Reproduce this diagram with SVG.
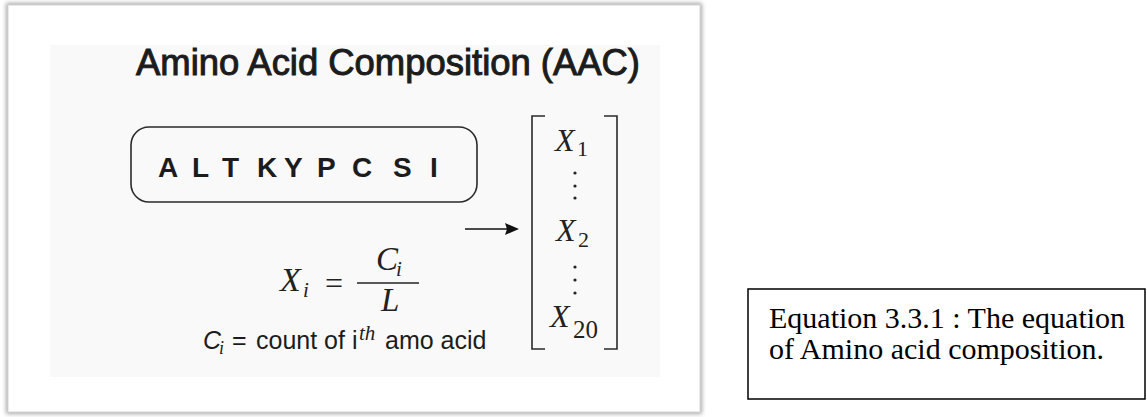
<svg xmlns="http://www.w3.org/2000/svg" width="1147" height="417" viewBox="0 0 1147 417">
<style>
.sans{font-family:"Liberation Sans",Arial,sans-serif;fill:#1c1c1c}
.math{font-family:"Liberation Serif","Times New Roman",serif;font-style:italic;fill:#222}
.mathr{font-family:"Liberation Serif","Times New Roman",serif;fill:#222}
.cap{font-family:"Liberation Serif","Times New Roman",serif;font-size:30px;fill:#000}
.ln{stroke:#2a2a2a;stroke-width:1.6;fill:none}
.dot{fill:#222}
</style>
<defs>
<filter id="sh" x="-5%" y="-5%" width="110%" height="110%">
<feGaussianBlur stdDeviation="2"/>
</filter>
</defs>
<rect width="1147" height="417" fill="#ffffff"/>
<g id="frame">
<rect x="6" y="3" width="696" height="411" fill="#a8a8a8" filter="url(#sh)"/>
<rect x="8" y="5" width="692" height="407" fill="#ffffff" stroke="#d6d6d6" stroke-width="1"/>
<rect x="50" y="45" width="610" height="332" fill="#f9f9f9"/>
</g>
<g id="title">
<text class="sans" x="136" y="75" font-size="36" stroke="#1c1c1c" stroke-width="1" textLength="504" lengthAdjust="spacingAndGlyphs">Amino Acid Composition (AAC)</text>
</g>
<g id="sequence">
<rect x="131" y="127" width="346" height="75" rx="18" ry="18" class="ln" stroke-width="1.5"/>
<text class="sans" font-size="28" font-weight="bold" y="177"><tspan x="158">A</tspan> <tspan x="192">L</tspan> <tspan x="222">T</tspan> <tspan x="257">K</tspan> <tspan x="284">Y</tspan> <tspan x="317">P</tspan> <tspan x="352">C</tspan> <tspan x="393">S</tspan> <tspan x="430">I</tspan></text>
</g>
<g id="formula">
<text class="math" x="280" y="291" font-size="34">X</text>
<text class="math" x="303" y="297" font-size="21">i</text>
<text class="mathr" x="325" y="294" font-size="32">=</text>
<line x1="357" y1="283" x2="419" y2="283" stroke="#222" stroke-width="1.4"/>
<text class="math" x="376" y="270" font-size="33">C</text>
<text class="math" x="396" y="276" font-size="21">i</text>
<text class="math" x="381" y="311" font-size="33">L</text>
</g>
<g id="definition">
<text class="sans" x="203" y="349" font-size="25" font-style="italic">C</text>
<text class="math" x="219" y="354" font-size="18">i</text>
<text class="sans" x="232" y="349" font-size="25">=</text>
<text class="sans" x="256" y="349" font-size="25">count of i</text>
<text class="math" x="359" y="340" font-size="21">th</text>
<text class="sans" x="385" y="349" font-size="25">amo acid</text>
</g>
<g id="connectors">
<line x1="465" y1="229" x2="507" y2="229" stroke="#111" stroke-width="1.6"/>
<polygon points="505,223 519,229 505,235 507,229" fill="#111"/>
</g>
<g id="vector">
<path d="M545,116 H532 V349 H545" class="ln" stroke-width="2"/>
<path d="M604,116 H617 V349 H604" class="ln" stroke-width="2"/>
<text class="math" x="555" y="151" font-size="32">X</text>
<text class="mathr" x="577" y="156" font-size="22">1</text>
<circle class="dot" cx="575" cy="173" r="1.6"/>
<circle class="dot" cx="575" cy="186" r="1.6"/>
<circle class="dot" cx="575" cy="198" r="1.6"/>
<text class="math" x="556" y="241" font-size="32">X</text>
<text class="mathr" x="578" y="247" font-size="22">2</text>
<circle class="dot" cx="575" cy="267" r="1.6"/>
<circle class="dot" cx="575" cy="280" r="1.6"/>
<circle class="dot" cx="575" cy="293" r="1.6"/>
<text class="math" x="550" y="327" font-size="32">X</text>
<text class="mathr" x="573" y="338" font-size="25">20</text>
</g>
<g id="caption">
<rect x="748" y="289" width="397" height="110" fill="#ffffff" stroke="#000" stroke-width="1.5"/>
<text class="cap" x="769" y="328">Equation 3.3.1 : The equation</text>
<text class="cap" x="769" y="359">of Amino acid composition.</text>
</g>
</svg>
